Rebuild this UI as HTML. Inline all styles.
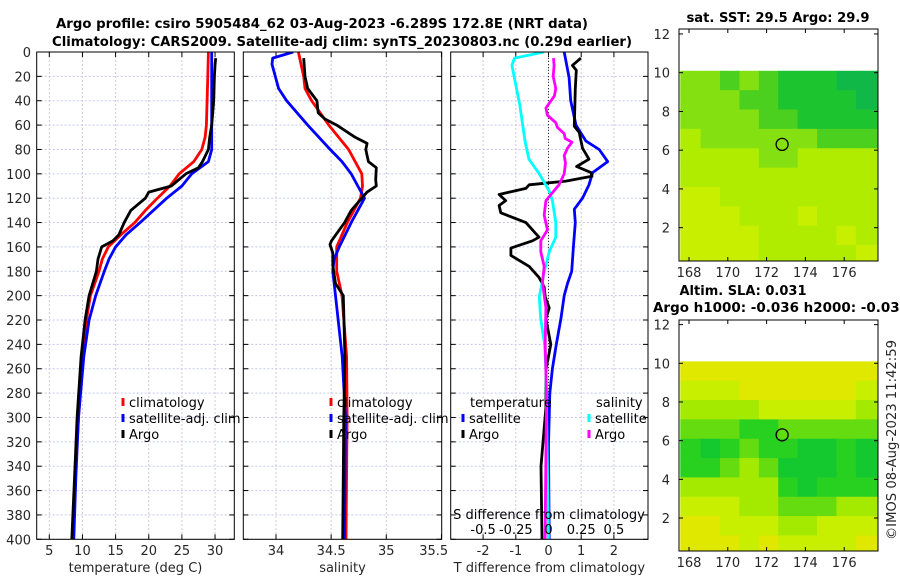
<!DOCTYPE html>
<html><head><meta charset="utf-8"><style>
html,body{margin:0;padding:0;background:#fff;}
svg{display:block;font-family:"DejaVu Sans","Liberation Sans",sans-serif;}
</style></head><body>
<svg id="fig" width="900" height="580" viewBox="0 0 900 580" xmlns="http://www.w3.org/2000/svg">
<rect width="900" height="580" fill="#fff"/>
<g id="titles" font-weight="bold" font-size="13" fill="#000" text-anchor="middle">
<text x="322" y="28" textLength="532" lengthAdjust="spacingAndGlyphs">Argo profile: csiro 5905484_62 03-Aug-2023 -6.289S 172.8E (NRT data)</text>
<text x="342" y="46" textLength="580" lengthAdjust="spacingAndGlyphs">Climatology: CARS2009. Satellite-adj clim: synTS_20230803.nc (0.29d earlier)</text>
<text x="778" y="22" textLength="183" lengthAdjust="spacingAndGlyphs">sat. SST: 29.5 Argo: 29.9</text>
<text x="743" y="295" textLength="127" lengthAdjust="spacingAndGlyphs">Altim. SLA: 0.031</text>
<text x="653" y="312" text-anchor="start" textLength="256" lengthAdjust="spacingAndGlyphs">Argo h1000: -0.036 h2000: -0.034</text>
</g>
<text x="0" y="0" transform="translate(896,440) rotate(-90)" text-anchor="middle" font-size="13" fill="#262626" textLength="200" lengthAdjust="spacingAndGlyphs">©IMOS 08-Aug-2023 11:42:59</text>
<g id="plots"></g>
</svg>
<script>
// ---- data: depth profiles (depth m, value) ----
const tempClimDepth = [0,20,40,60,70,80,90,100,110,120,130,140,150,160,170,180,200,220,250,300,350,400];
const tempClimVal   = [29.0,28.9,28.8,28.7,28.5,28.0,26.8,24.6,23.2,21.3,19.5,17.9,15.8,13.9,13.0,12.5,11.2,10.6,10.0,9.4,8.9,8.6];
const tempSatDepth  = [0,20,40,60,80,90,100,110,120,140,150,160,170,180,200,220,250,300,350,400];
const tempSatVal    = [29.5,29.5,29.5,29.5,29.5,29.0,26.5,25.0,22.7,18.7,16.6,15.0,14.0,13.3,12.0,11.0,10.2,9.4,9.0,8.7];
const tempArgoDepth = [5,10,20,40,60,70,80,90,95,100,110,115,120,130,140,150,155,160,170,180,200,220,250,300,350,400];
const tempArgoVal   = [30.1,30.0,29.9,29.8,29.5,29.2,29.0,28.1,27.5,25.6,23.4,20.0,19.5,17.3,16.3,15.5,14.6,12.9,12.35,12.1,11.0,10.4,9.8,9.2,8.8,8.4];

const salClimDepth = [0,10,20,30,40,60,80,100,110,120,140,160,180,200,250,300,400];
const salClimVal   = [34.203,34.227,34.251,34.263,34.323,34.479,34.658,34.778,34.784,34.766,34.646,34.55,34.55,34.598,34.64,34.645,34.635];
const salSatDepth  = [0,5,10,30,40,60,80,90,100,110,120,140,160,170,180,200,250,300,400];
const salSatVal    = [34.156,33.97,33.964,34.024,34.096,34.287,34.491,34.598,34.682,34.742,34.802,34.682,34.574,34.527,34.515,34.539,34.6,34.63,34.62];
const salArgoDepth = [5,20,30,40,50,55,60,70,75,80,90,95,105,110,115,120,130,140,155,158,165,175,190,200,250,300,400];
const salArgoVal   = [34.251,34.263,34.287,34.371,34.383,34.443,34.55,34.718,34.826,34.814,34.838,34.909,34.904,34.909,34.826,34.778,34.682,34.622,34.503,34.49,34.515,34.515,34.539,34.61,34.625,34.615,34.605];

const dTSatDepth  = [0,21,40,60,73,80,90,99,109,120,129,140,160,180,190,200,219,240,260,280,322,400];
const dTSatVal    = [0.48,0.63,0.68,0.84,1.14,1.55,1.81,1.35,1.24,1.04,0.79,0.82,0.76,0.71,0.58,0.48,0.38,0.24,0.12,0.04,0.0,0.02];
const dTArgoDepth = [5,11,15,30,61,66,79,88,94,99,102,106,109,112,117,122,126,132,140,152,155,161,167,176,185,193,201,210,219,240,261,292,340,400];
const dTArgoVal   = [0.99,0.73,0.85,0.82,0.79,0.94,1.04,1.24,0.86,1.30,1.33,0.53,-0.59,-0.69,-1.51,-1.31,-1.51,-1.46,-0.69,-0.29,-0.49,-1.15,-1.15,-0.59,-0.29,-0.13,-0.1,0.02,-0.08,0.07,-0.08,-0.08,-0.23,-0.2];
const dSSatDepth  = [0,5,11,43,73,88,100,114,122,140,152,164,179,201,219,240,261,400];
const dSSatVal    = [-0.033,-0.26,-0.28,-0.22,-0.18,-0.15,-0.07,0.005,0.03,0.056,0.056,0.005,-0.03,-0.07,-0.06,-0.03,-0.02,0.0];
const dSArgoDepth = [5,11,20,30,36,46,52,58,62,67,71,74,79,85,91,100,109,122,134,146,155,164,176,189,210,240,280,400];
const dSArgoVal   = [0.038,0.043,0.036,0.056,0.045,-0.02,-0.008,0.056,0.069,0.12,0.128,0.18,0.145,0.12,0.13,0.12,0.08,-0.02,-0.033,-0.008,-0.059,-0.059,-0.033,-0.046,-0.02,-0.025,-0.015,-0.026];

const depthTicks = [0,20,40,60,80,100,120,140,160,180,200,220,240,260,280,300,320,340,360,380,400];
const tempTicks = [5,10,15,20,25,30];
const salTicks = [34,34.5,35,35.5];
const tdTicks = [-2,-1,0,1,2];
const sdTickLabels = ['-0.5','-0.25','0','0.25','0.5'];
const sdTicks = [-0.5,-0.25,0,0.25,0.5];

// ---- map data: colour levels per cell (rows lat 10 -> 0.3, cols lon 167.6 -> 177.9) ----
const mapLatEdges = [10.1,9.1,8.1,7.1,6.1,5.1,4.1,3.1,2.1,1.1,0.28];
const mapLonEdges = [167.55,168.6,169.6,170.6,171.6,172.6,173.6,174.6,175.6,176.6,177.85];
const sstLevels = [
 [2,2,3,2,3,4,4,4,5,5],
 [2,2,2,3,3,4,4,4,4,5],
 [2,2,2,2,3,3,4,4,4,4],
 [1,2,2,2,2,2,2,3,3,3],
 [1,1,1,1,2,2,1,1,1,1],
 [1,1,1,1,1,1,1,1,1,1],
 [0,0,1,1,1,1,1,1,1,1],
 [0,0,0,1,1,1,0,1,1,1],
 [0,0,0,0,1,1,1,1,0,1],
 [0,0,0,0,1,1,1,1,1,0]];
const sstPalette = ['#c8ee00','#b0ec00','#84e010','#4cd020','#1cc430','#10b848'];
const slaLevels = [
 [0,0,0,0,0,0,0,0,0,0],
 [1,1,1,0,0,0,0,0,0,1],
 [2,2,2,2,1,1,1,1,1,2],
 [3,3,3,4,4,3,3,3,3,3],
 [4,5,4,3,4,4,5,5,4,5],
 [4,4,3,2,3,5,5,5,4,5],
 [2,2,2,2,2,4,5,4,4,4],
 [1,1,1,2,2,3,3,3,2,2],
 [0,0,1,1,1,2,2,1,1,1],
 [0,0,0,1,0,1,1,1,1,0]];
const slaPalette = ['#e0e800','#c8ee00','#a4ea00','#64dc10','#28d020','#14c830'];
const mapLatTicks = [12,10,8,6,4,2];
const mapLonTicks = [168,170,172,174,176];
const argoLon = 172.8, argoLat = 6.3;

const NS='http://www.w3.org/2000/svg';
const root=document.getElementById('plots');
function mk(tag,attrs,parent){const e=document.createElementNS(NS,tag);for(const k in attrs)e.setAttribute(k,attrs[k]);(parent||root).appendChild(e);return e;}

const Y0=52, Y1=539.3;
function yD(d){return Y0+d*(Y1-Y0)/400;}

function panel(name,x0,x1,xf,ticks,tickLabels,xlabel,showY){
  const g=mk('g',{});
  
  
  depthTicks.forEach(d=>{const l=mk('line',{x1:x0,x2:x1,y1:yD(d),y2:yD(d),stroke:'#c4c8e8','stroke-width':1,'stroke-dasharray':'2,2'},g);
    
    });
  ticks.forEach(t=>{const X=xf(t);if(X<x0+1||X>x1-1)return;const l=mk('line',{x1:X,x2:X,y1:Y0,y2:Y1,stroke:'#d0c8e0','stroke-width':1,'stroke-dasharray':'2,2'},g);
    
    });
  depthTicks.forEach(d=>{mk('line',{x1:x0,x2:x0+5,y1:yD(d),y2:yD(d),stroke:'#000'},g);mk('line',{x1:x1-5,x2:x1,y1:yD(d),y2:yD(d),stroke:'#000'},g);
    if(showY){const t=mk('text',{x:31,y:yD(d)+5,'text-anchor':'end','font-size':13,fill:'#262626'},g);t.textContent=d;
      
      }});
  ticks.forEach((t,i)=>{const X=xf(t);mk('line',{x1:X,x2:X,y1:Y1,y2:Y1-5,stroke:'#000'},g);mk('line',{x1:X,x2:X,y1:Y0,y2:Y0+5,stroke:'#000'},g);
    const tx=mk('text',{x:Math.min(X,x1-8),y:555,'text-anchor':'middle','font-size':13,fill:'#262626'},g);tx.textContent=tickLabels[i];
    
    });
  const xl=mk('text',{x:(x0+x1)/2,y:572,'text-anchor':'middle','font-size':13,fill:'#262626'},g);xl.textContent=xlabel;
  
  
  return g;
}
function frame(x0,x1,g){mk('rect',{x:x0,y:Y0,width:x1-x0,height:Y1-Y0,fill:'none',stroke:'#000','stroke-width':1},g);}
function series(g,depths,vals,xf,color,name,clipId){
  const pts=depths.map((d,i)=>xf(vals[i]).toFixed(1)+','+yD(d).toFixed(1)).join(' ');
  const p=mk('polyline',{points:pts,fill:'none',stroke:color,'stroke-width':2.8,'stroke-linejoin':'round','clip-path':'url(#'+clipId+')'},g);
  
  
}
function clip(id,x0,x1){const defs=mk('defs',{});const c=mk('clipPath',{id:id},defs);mk('rect',{x:x0,y:Y0,width:x1-x0,height:Y1-Y0},c);}
function legendEntry(g,x,y,color,label,name){
  mk('line',{x1:x,x2:x,y1:y-9,y2:y-1,stroke:color,'stroke-width':3},g);
  const t=mk('text',{x:x+6,y:y,'font-size':13,fill:'#000'},g);t.textContent=label;
  
  
}

const xT=t=>49.3+(t-5)*6.63;
clip('c1',36.7,234.3);
const g1=panel('temperature-panel',36.7,234.3,xT,tempTicks,tempTicks.map(String),'temperature (deg C)',true);
series(g1,tempClimDepth,tempClimVal,xT,'#ff0000','temp-climatology-line','c1');
series(g1,tempSatDepth,tempSatVal,xT,'#0000ff','temp-satellite-line','c1');
series(g1,tempArgoDepth,tempArgoVal,xT,'#000000','temp-argo-line','c1');
frame(36.7,234.3,g1);
legendEntry(g1,123,407,'#ff0000','climatology','legend-climatology');
legendEntry(g1,123,423,'#0000ff','satellite-adj. clim','legend-satellite-adj');
legendEntry(g1,123,439,'#000000','Argo','legend-argo');

const xS=s=>276+(s-34)*110.3;
clip('c2',243.3,441.7);
const g2=panel('salinity-panel',243.3,441.7,xS,salTicks,salTicks.map(String),'salinity',false);
series(g2,salClimDepth,salClimVal,xS,'#ff0000','sal-climatology-line','c2');
series(g2,salSatDepth,salSatVal,xS,'#0000ff','sal-satellite-line','c2');
series(g2,salArgoDepth,salArgoVal,xS,'#000000','sal-argo-line','c2');
frame(243.3,441.7,g2);
legendEntry(g2,331,407,'#ff0000','climatology','legend-climatology-2');
legendEntry(g2,331,423,'#0000ff','satellite-adj. clim','legend-satellite-adj-2');
legendEntry(g2,331,439,'#000000','Argo','legend-argo-2');

const xDT=t=>548.5+t*32.7;
const xDS=s=>548.5+s*130.8;
clip('c3',450.7,648);
const g3=panel('difference-panel',450.7,648,xDT,tdTicks,tdTicks.map(String),'T difference from climatology',false);
mk('line',{x1:xDT(0),x2:xDT(0),y1:Y0,y2:Y1,stroke:'#333','stroke-width':1,'stroke-dasharray':'1,2'},g3);
series(g3,dTSatDepth,dTSatVal,xDT,'#0000ff','dT-satellite-line','c3');
series(g3,dTArgoDepth,dTArgoVal,xDT,'#000000','dT-argo-line','c3');
series(g3,dSSatDepth,dSSatVal,xDS,'#00ffff','dS-satellite-line','c3');
series(g3,dSArgoDepth,dSArgoVal,xDS,'#ff00ff','dS-argo-line','c3');
frame(450.7,648,g3);
{const t=mk('text',{x:470,y:407,'font-size':13},g3);t.textContent='temperature';
 
 
 const s=mk('text',{x:596,y:407,'font-size':13},g3);s.textContent='salinity';
 
 }
legendEntry(g3,463,423,'#0000ff','satellite','legend-t-satellite');
legendEntry(g3,463,439,'#000000','Argo','legend-t-argo');
legendEntry(g3,589,423,'#00ffff','satellite','legend-s-satellite');
legendEntry(g3,589,439,'#ff00ff','Argo','legend-s-argo');
{const t=mk('text',{x:549,y:519,'text-anchor':'middle','font-size':13},g3);t.textContent='S difference from climatology';
 
 
 sdTicks.forEach((s,i)=>{const l=mk('text',{x:xDS(s),y:534,'text-anchor':'middle','font-size':13},g3);l.textContent=sdTickLabels[i];
   
   });}

function drawMap(name,top,bottom,yLat,levels,palette){
  const g=mk('g',{});
  
  
  const xL=lon=>689+(lon-168)*19.4;
  const L=679,R=878;
  levels.forEach((row,r)=>row.forEach((v,c)=>{
    const x0=Math.max(L,xL(mapLonEdges[c])),x1=Math.min(R,xL(mapLonEdges[c+1]));
    const y0=yLat(mapLatEdges[r]),y1=Math.min(bottom,yLat(mapLatEdges[r+1]));
    const cell=mk('rect',{x:x0,y:y0,width:x1-x0+0.5,height:y1-y0+0.5,fill:palette[v]},g);
    
    
  }));
  const circ=mk('circle',{cx:xL(argoLon),cy:yLat(argoLat),r:6,fill:'none',stroke:'#000','stroke-width':1.3},g);
  
  
  mk('rect',{x:L,y:top,width:R-L,height:bottom-top,fill:'none',stroke:'#000'},g);
  mapLatTicks.forEach(lat=>{const Y=yLat(lat);mk('line',{x1:L,x2:L+4,y1:Y,y2:Y,stroke:'#000'},g);mk('line',{x1:R-4,x2:R,y1:Y,y2:Y,stroke:'#000'},g);
    const t=mk('text',{x:670,y:Y+5,'text-anchor':'end','font-size':13,fill:'#262626'},g);t.textContent=lat;
    
    });
  mapLonTicks.forEach(lon=>{const X=xL(lon);mk('line',{x1:X,x2:X,y1:bottom,y2:bottom-4,stroke:'#000'},g);mk('line',{x1:X,x2:X,y1:top,y2:top+4,stroke:'#000'},g);
    const t=mk('text',{x:X,y:bottom+16,'text-anchor':'middle','font-size':13,fill:'#262626'},g);t.textContent=lon;
    
    });
}
drawMap('sst-map',29,261,lat=>72.7+(10-lat)*19.37,sstLevels,sstPalette);
drawMap('sla-map',320,551,lat=>363.3+(10-lat)*19.34,slaLevels,slaPalette);
</script>
</body></html>
